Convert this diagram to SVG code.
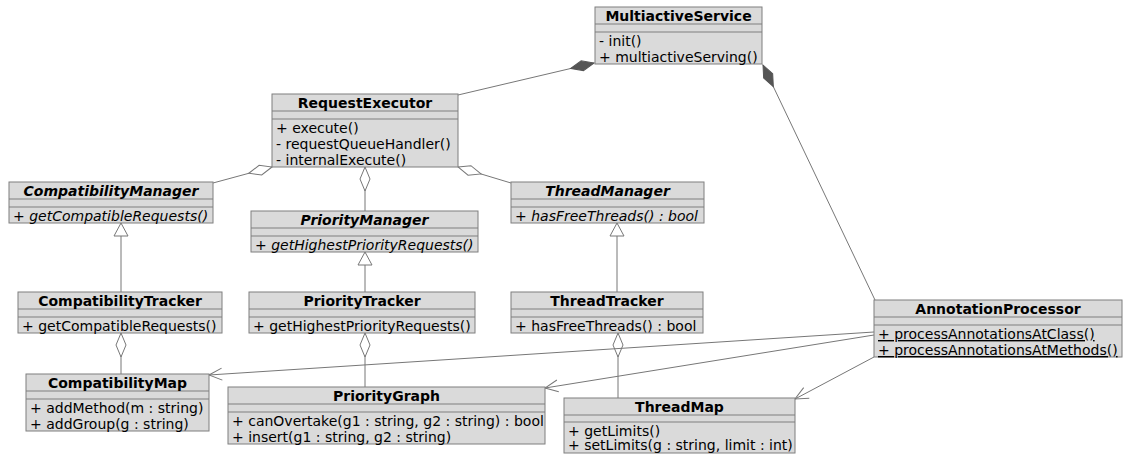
<svg xmlns="http://www.w3.org/2000/svg" width="1125" height="454" viewBox="0 0 1125 454">
<style>
.bg{fill:#ffffff}
.box{fill:#dadada;stroke:#7f7f7f;stroke-width:1}
.sep{stroke:#7f7f7f;stroke-width:1}
.t{font-family:"DejaVu Sans",sans-serif;font-size:14px;fill:#000}
.title{font-weight:bold;text-anchor:middle}
.it{font-style:italic}
.ul{text-decoration:underline}
.con{fill:none;stroke:#777777;stroke-width:1}
</style>
<defs>
<marker id="dFill" markerUnits="userSpaceOnUse" orient="auto" refX="0" refY="0" overflow="visible" markerWidth="30" markerHeight="30"><path d="M0,0 L12,-5 L24,0 L12,5 Z" fill="#555555" stroke="#555555" stroke-width="1"/></marker>
<marker id="dOpen" markerUnits="userSpaceOnUse" orient="auto" refX="0" refY="0" overflow="visible" markerWidth="30" markerHeight="30"><path d="M0,0 L12,-5 L24,0 L12,5 Z" fill="#ffffff" stroke="#777777" stroke-width="1"/></marker>
<marker id="tri" markerUnits="userSpaceOnUse" orient="auto" refX="0" refY="0" overflow="visible" markerWidth="30" markerHeight="30"><path d="M0,0 L13,-7 L13,7 Z" fill="#ffffff" stroke="#777777" stroke-width="1"/></marker>
<marker id="arr" markerUnits="userSpaceOnUse" orient="auto" refX="0" refY="0" overflow="visible" markerWidth="30" markerHeight="30"><path d="M13,-6 L0,0 L13,6" fill="none" stroke="#777777" stroke-width="1"/></marker>
</defs>
<rect class="bg" x="0" y="0" width="1125" height="454"/>
<g id="connectors">
<path class="con" d="M594,63 L458,95" marker-start="url(#dFill)"/>
<path class="con" d="M763,65 L875,300" marker-start="url(#dFill)"/>
<path class="con" d="M272,167 L213,183" marker-start="url(#dOpen)"/>
<path class="con" d="M365,167 L365,211" marker-start="url(#dOpen)"/>
<path class="con" d="M458,167 L511,183" marker-start="url(#dOpen)"/>
<path class="con" d="M121,223 L121,292" marker-start="url(#tri)"/>
<path class="con" d="M365,252 L365,292" marker-start="url(#tri)"/>
<path class="con" d="M617,223 L617,292" marker-start="url(#tri)"/>
<path class="con" d="M121,333 L121,374" marker-start="url(#dOpen)"/>
<path class="con" d="M365,333 L365,387" marker-start="url(#dOpen)"/>
<path class="con" d="M618,333 L618,398" marker-start="url(#dOpen)"/>
<path class="con" d="M209,375 L874,332" marker-start="url(#arr)"/>
<path class="con" d="M545,388 L874,335" marker-start="url(#arr)"/>
<path class="con" d="M795,399 L874,357" marker-start="url(#arr)"/>
</g>
<g id="MultiactiveService">
<rect class="box" x="595" y="7" width="167" height="57"/>
<line class="sep" x1="595" y1="24" x2="762" y2="24"/><line class="sep" x1="595" y1="32" x2="762" y2="32"/>
<text class="t title" x="678.5" y="21">MultiactiveService</text>
<text class="t" x="599" y="46">- init()</text>
<text class="t" x="599" y="62">+ multiactiveServing()</text>
</g>
<g id="RequestExecutor">
<rect class="box" x="272" y="94" width="186" height="73"/>
<line class="sep" x1="272" y1="111" x2="458" y2="111"/><line class="sep" x1="272" y1="119" x2="458" y2="119"/>
<text class="t title" x="365" y="108">RequestExecutor</text>
<text class="t" x="276" y="133">+ execute()</text>
<text class="t" x="276" y="149">- requestQueueHandler()</text>
<text class="t" x="276" y="165">- internalExecute()</text>
</g>
<g id="CompatibilityManager">
<rect class="box" x="9" y="182" width="204" height="41"/>
<line class="sep" x1="9" y1="199" x2="213" y2="199"/><line class="sep" x1="9" y1="207" x2="213" y2="207"/>
<text class="t title it" x="111" y="196">CompatibilityManager</text>
<text class="t it" x="13" y="221">+ getCompatibleRequests()</text>
</g>
<g id="PriorityManager">
<rect class="box" x="251" y="211" width="227" height="41"/>
<line class="sep" x1="251" y1="228" x2="478" y2="228"/><line class="sep" x1="251" y1="236" x2="478" y2="236"/>
<text class="t title it" x="364.5" y="225">PriorityManager</text>
<text class="t it" x="255" y="250">+ getHighestPriorityRequests()</text>
</g>
<g id="ThreadManager">
<rect class="box" x="511" y="182" width="193" height="41"/>
<line class="sep" x1="511" y1="199" x2="704" y2="199"/><line class="sep" x1="511" y1="207" x2="704" y2="207"/>
<text class="t title it" x="607.5" y="196">ThreadManager</text>
<text class="t it" x="515" y="221">+ hasFreeThreads() : bool</text>
</g>
<g id="CompatibilityTracker">
<rect class="box" x="18" y="292" width="204" height="41"/>
<line class="sep" x1="18" y1="309" x2="222" y2="309"/><line class="sep" x1="18" y1="317" x2="222" y2="317"/>
<text class="t title" x="120" y="306">CompatibilityTracker</text>
<text class="t" x="22" y="331">+ getCompatibleRequests()</text>
</g>
<g id="PriorityTracker">
<rect class="box" x="249" y="292" width="226" height="41"/>
<line class="sep" x1="249" y1="309" x2="475" y2="309"/><line class="sep" x1="249" y1="317" x2="475" y2="317"/>
<text class="t title" x="362" y="306">PriorityTracker</text>
<text class="t" x="253" y="331">+ getHighestPriorityRequests()</text>
</g>
<g id="ThreadTracker">
<rect class="box" x="511" y="292" width="192" height="41"/>
<line class="sep" x1="511" y1="309" x2="703" y2="309"/><line class="sep" x1="511" y1="317" x2="703" y2="317"/>
<text class="t title" x="607" y="306">ThreadTracker</text>
<text class="t" x="515" y="331">+ hasFreeThreads() : bool</text>
</g>
<g id="AnnotationProcessor">
<rect class="box" x="874" y="300" width="248" height="57"/>
<line class="sep" x1="874" y1="317" x2="1122" y2="317"/><line class="sep" x1="874" y1="325" x2="1122" y2="325"/>
<text class="t title" x="998" y="314">AnnotationProcessor</text>
<text class="t ul" x="878" y="339">+ processAnnotationsAtClass()</text>
<text class="t ul" x="878" y="355">+ processAnnotationsAtMethods()</text>
</g>
<g id="CompatibilityMap">
<rect class="box" x="26" y="374" width="183" height="57"/>
<line class="sep" x1="26" y1="391" x2="209" y2="391"/><line class="sep" x1="26" y1="399" x2="209" y2="399"/>
<text class="t title" x="117.5" y="388">CompatibilityMap</text>
<text class="t" x="30" y="413">+ addMethod(m : string)</text>
<text class="t" x="30" y="429">+ addGroup(g : string)</text>
</g>
<g id="PriorityGraph">
<rect class="box" x="228" y="387" width="317" height="57"/>
<line class="sep" x1="228" y1="404" x2="545" y2="404"/><line class="sep" x1="228" y1="412" x2="545" y2="412"/>
<text class="t title" x="386.5" y="401">PriorityGraph</text>
<text class="t" x="232" y="426">+ canOvertake(g1 : string, g2 : string) : bool</text>
<text class="t" x="232" y="442">+ insert(g1 : string, g2 : string)</text>
</g>
<g id="ThreadMap">
<rect class="box" x="564" y="398" width="231" height="55"/>
<line class="sep" x1="564" y1="415" x2="795" y2="415"/><line class="sep" x1="564" y1="422" x2="795" y2="422"/>
<text class="t title" x="679.5" y="412">ThreadMap</text>
<text class="t" x="568" y="436">+ getLimits()</text>
<text class="t" x="568" y="450">+ setLimits(g : string, limit : int)</text>
</g>
</svg>
